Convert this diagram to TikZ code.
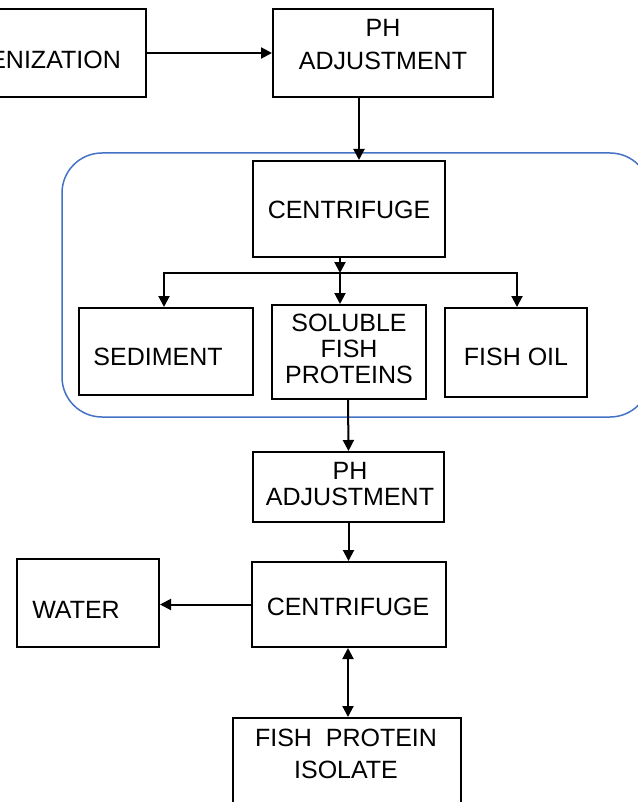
\documentclass[tikz,border=0pt]{standalone}
\usepackage{fontspec}
\setmainfont{Liberation Sans}
\usetikzlibrary{arrows.meta}
\definecolor{groupblue}{HTML}{4472C4}
\tikzset{
  stage/.style={draw=black, line width=2pt, fill=none, inner sep=0pt},
  label/.style={font=\fontsize{25}{26}\selectfont, align=center, inner sep=0pt, text=black},
  flow/.style={line width=2pt, -{Triangle[length=11pt,width=11pt]}},
  twoway/.style={line width=2pt, {Triangle[length=11pt,width=11pt]}-{Triangle[length=11pt,width=11pt]}},
}
\begin{document}
\begin{tikzpicture}[x=1pt,y=-1pt]
\useasboundingbox (0,0) rectangle (637,802);

% grouping frame round the first centrifuge stage
\draw[groupblue, line width=1.5pt, rounded corners=40pt] (62,153) rectangle (650,417);

% process boxes
\node[stage, minimum width=206pt, minimum height=88pt] (homog) at (43,53) {};
\node[stage, minimum width=220pt, minimum height=88pt] (ph1) at (383,53) {};
\node[stage, minimum width=192pt, minimum height=96pt] (cen1) at (349,209) {};
\node[stage, minimum width=174pt, minimum height=87pt] (sed) at (166,351.5) {};
\node[stage, minimum width=154pt, minimum height=94pt] (sol) at (349,352) {};
\node[stage, minimum width=142pt, minimum height=89pt] (oil) at (516,352.5) {};
\node[stage, minimum width=191pt, minimum height=70pt] (ph2) at (348.5,487) {};
\node[stage, minimum width=194pt, minimum height=85pt] (cen2) at (349,604.5) {};
\node[stage, minimum width=142pt, minimum height=88pt] (water) at (88,603) {};
\node[stage, minimum width=228pt, minimum height=112pt] (fpi) at (347,774) {};

% box texts
\node[label, anchor=east] (t-homog) at (121,60) {ENIZATION};
\node[label, font=\fontsize{25}{33}\selectfont] (t-ph1) at (383,45) {PH\\ADJUSTMENT};
\node[label] (t-cen1) at (349,210) {CENTRIFUGE};
\node[label] (t-sed) at (158,357) {SEDIMENT};
\node[label, font=\fontsize{25}{26}\selectfont] (t-sol) at (349,349) {SOLUBLE\\FISH\\PROTEINS};
\node[label] (t-oil) at (516,357) {FISH OIL};
\node[label] (t-ph2) at (350,484) {PH\\ADJUSTMENT};
\node[label] (t-cen2) at (348,607) {CENTRIFUGE};
\node[label] (t-water) at (76,610) {WATER};
\node[label, font=\fontsize{25}{32}\selectfont] (t-fpi) at (346,754) {FISH\ \ PROTEIN\\ISOLATE};

% connectors
\coordinate (split) at (340,273);
\draw[flow] (homog.east) -- (ph1.west);
\draw[flow] ([xshift=-24pt]ph1.south) -- ([xshift=10pt]cen1.north);
\draw[flow] ([xshift=-9pt]cen1.south) -- (split);
\draw[flow] (split) -| ([xshift=-2pt]sed.north);
\draw[flow] (split) -- ([xshift=-9pt]sol.north);
\draw[flow] (split) -| ([xshift=1pt]oil.north);
\draw[flow] ([xshift=-1pt]sol.south) -- (ph2.north);
\draw[flow] (ph2.south) -- ([xshift=-0.5pt]cen2.north);
\draw[flow] (cen2.west) -- (cen2.west -| water.east);
\draw[twoway] ([xshift=-1pt]cen2.south) -- ([xshift=1pt]fpi.north);
\end{tikzpicture}
\end{document}
